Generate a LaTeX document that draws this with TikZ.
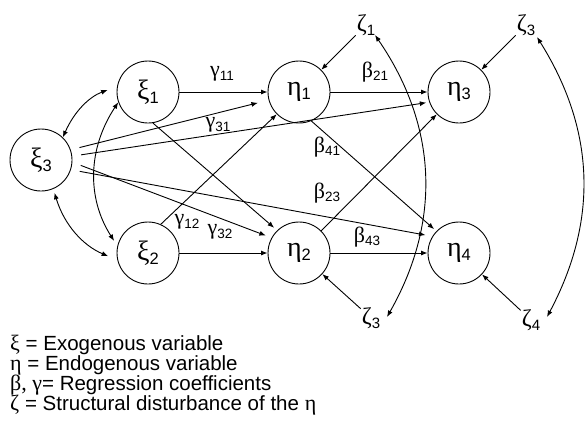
\documentclass[tikz,border=0pt]{standalone}
\usepackage{fontspec}
\setmainfont{Liberation Sans}
\newfontfamily\gr{Liberation Serif}
\usetikzlibrary{arrows.meta,calc}
\newcommand\nlab[2]{{\fontsize{28}{28}\selectfont\gr #1}\raisebox{-4pt}{\fontsize{16.5}{16.5}\selectfont #2}}
\newcommand\elab[2]{{\fontsize{22}{22}\selectfont\gr #1}\raisebox{-3.5pt}{\fontsize{13.5}{13.5}\selectfont #2}}
\newcommand\zlab[2]{{\fontsize{24}{24}\selectfont\gr #1}\raisebox{-4pt}{\fontsize{15}{15}\selectfont #2}}
\begin{document}
\begin{tikzpicture}[x=1pt,y=-1pt,
  var/.style={circle,draw,line width=0.9pt,minimum size=62pt,inner sep=0pt},
  dist/.style={inner sep=1pt},
  lab/.style={inner sep=0pt},
  arr/.style={line width=0.9pt,-{Latex[length=6.5pt,width=5pt]}},
  darr/.style={line width=0.9pt,{Latex[length=6.5pt,width=5pt]}-{Latex[length=6.5pt,width=5pt]}},
  leg/.style={anchor=base west,inner sep=0pt,font=\fontsize{20.5}{20.5}\selectfont}]
\useasboundingbox (0,0) rectangle (585,437);
% variables
\node[var] (xi3) at (41,160) {\nlab{ξ}{3}};
\node[var] (xi1) at (148,92) {\nlab{ξ}{1}};
\node[var] (xi2) at (148,253) {\nlab{ξ}{2}};
\node[var] (eta1) at (299,92) {\nlab{η}{1}};
\node[var] (eta2) at (299,253) {\nlab{η}{2}};
\node[var] (eta3) at (459,92) {\nlab{η}{3}};
\node[var] (eta4) at (459,253) {\nlab{η}{4}};
% disturbances
\node[dist] (z1) at (366,25) {\zlab{ζ}{1}};
\node[dist] (z3a) at (526,25) {\zlab{ζ}{3}};
\node[dist] (z3b) at (371,318) {\zlab{ζ}{3}};
\node[dist] (z4) at (531,320) {\zlab{ζ}{4}};
% straight paths
\draw[arr] (xi1) -- (eta1);
\draw[arr] (eta1) -- (eta3);
\draw[arr] (xi2) -- (eta2);
\draw[arr] (eta2) -- (eta4);
\draw[arr,shorten <=9pt,shorten >=11pt] (xi3.19) -- (eta1.195);
\draw[arr,shorten <=9pt,shorten >=3pt] (xi3.7) -- (eta3.199);
\draw[arr,shorten <=9pt,shorten >=6pt] (xi3.-4) -- (eta2.151);
\draw[arr,shorten <=9pt,shorten >=7pt] (xi3.-18) -- (eta4.148);
\draw[arr,shorten >=4pt] (xi1.-81) -- (eta2.134);
\draw[arr] (xi2.66) -- (eta1.225);
\draw[arr,shorten >=3pt] (eta1.-67) -- (eta4.136);
\draw[arr] (eta2.45) -- (eta3.225);
% disturbance arrows
\draw[arr] (z1) -- (eta1);
\draw[arr] (z3a) -- (eta3);
\draw[arr] (z3b) -- (eta2);
\draw[arr] (z4) -- (eta4);
% correlations
\draw[darr,shorten >=10pt] (xi3.46) to[bend left=23] (xi1.170);
\draw[darr,shorten <=4pt,shorten >=10pt] (xi3.-67) to[bend right=25] (xi2.193);
\draw[darr,shorten >=6pt] (xi1.199) to[bend right=33] (xi2.167);
\draw[darr] ([shift={(9pt,-10pt)}]z1.center) to[bend left=32] ([shift={(16pt,1pt)}]z3b.center);
\draw[darr] ([shift={(11pt,-12pt)}]z3a.center) to[bend left=30] ([shift={(16pt,3pt)}]z4.center);
% coefficient labels
\node[lab] (g11) at (222,74) {\elab{γ}{11}};
\node[lab] (b21) at (375,72) {\elab{β}{21}};
\node[lab] (g31) at (218,125) {\elab{γ}{31}};
\node[lab] (g12) at (187,222) {\elab{γ}{12}};
\node[lab] (g32) at (220,232) {\elab{γ}{32}};
\node[lab] (b41) at (327,147) {\elab{β}{41}};
\node[lab] (b23) at (327,193) {\elab{β}{23}};
\node[lab] (b43) at (367,237) {\elab{β}{43}};
% legend
\node[leg] (lg1) at (10,350) {{\gr\fontsize{22}{22}\selectfont ξ} = Exogenous variable};
\node[leg] (lg2) at (10,370) {{\gr\fontsize{22}{22}\selectfont η} = Endogenous variable};
\node[leg] (lg3) at (10,390) {{\gr\fontsize{22}{22}\selectfont β, γ}= Regression coefficients};
\node[leg] (lg4) at (10,410) {{\gr\fontsize{22}{22}\selectfont ζ} = Structural disturbance of the {\gr\fontsize{22}{22}\selectfont η}};
\end{tikzpicture}
\end{document}
